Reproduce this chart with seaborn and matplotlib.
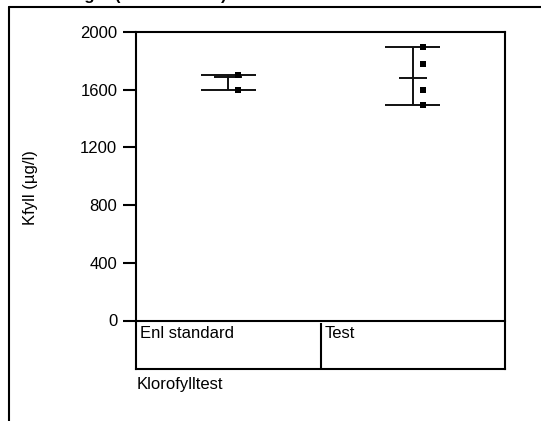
import matplotlib
matplotlib.use("Agg")
import matplotlib.pyplot as plt
from matplotlib.lines import Line2D
import numpy as np
import pandas as pd
import seaborn as sns

# Measurements per group (Kfyll, µg/l)
groups = ["Enl standard", "Test"]
enl_standard_values = [1700, 1598]
test_values = [1896, 1780, 1600, 1492]
group_means = [1686, 1680]

y_ticks = [0, 400, 800, 1200, 1600, 2000]
y_label = "Kfyll (µg/l)"
x_label = "Klorofylltest"
title = "Fördelningar (Enl standard)"

sns.set_theme(style="white")
plt.rcParams["font.family"] = ["Liberation Sans", "DejaVu Sans"]

W, H = 541, 421


def fx(px):
    return px / W


def fy(py):
    return 1 - py / H


fig = plt.figure(figsize=(W / 100, H / 100), dpi=100)

# main plotting area
ax = fig.add_axes([fx(136), fy(320.5), (505 - 136) / W, (320.5 - 32) / H])

values = [enl_standard_values, test_values]
df = pd.DataFrame({
    "group": np.repeat(np.arange(len(groups)), [len(v) for v in values]),
    "value": np.concatenate(values),
})
df["xpos"] = df["group"] + 0.055

# range bars: min/max caps plus a vertical connector, short tick at the mean
for i, v in enumerate(values):
    lo, hi = min(v), max(v)
    ax.hlines([lo, hi], i - 0.15, i + 0.15, color="#111111", lw=1.4, zorder=2)
    ax.vlines(i, lo, hi, color="#111111", lw=1.4, zorder=2)
    ax.hlines(group_means[i], i - 0.075, i + 0.075, color="#111111", lw=1.4, zorder=2)

sns.scatterplot(data=df, x="xpos", y="value", marker="s", s=22, color="black",
                edgecolor="black", linewidth=0, ax=ax, zorder=3, legend=False)

ax.set_xlim(-0.5, 1.5)
ax.set_ylim(0, 2000)
ax.set_yticks(y_ticks)
ax.set_yticklabels([str(t) for t in y_ticks])
ax.set_xticks([])
ax.set_xlabel("")
ax.set_ylabel("")
for s in ax.spines.values():
    s.set_linewidth(1.5)
    s.set_color("black")
ax.tick_params(axis="y", direction="out", length=9.5, width=1.5, pad=4,
               labelsize=12, colors="black", left=True)

# category strip beneath the plot
axc = fig.add_axes([fx(136), fy(368.5), (505 - 136) / W, (368.5 - 322.7) / H])
axc.set_xlim(-0.5, 1.5)
axc.set_ylim(0, 1)
axc.set_xticks([])
axc.set_yticks([])
axc.spines["top"].set_visible(False)
for side in ("left", "right", "bottom"):
    axc.spines[side].set_linewidth(1.5)
    axc.spines[side].set_color("black")
axc.axvline(0.5, color="black", lw=1.5)
for i, g in enumerate(groups):
    axc.annotate(g, xy=(i - 0.5, 1), xycoords=("data", "axes fraction"),
                 xytext=(4, -15), textcoords="offset pixels",
                 ha="left", va="baseline", fontsize=12, color="black")

fig.text(fx(137), fy(389), x_label, ha="left", va="baseline", fontsize=12, color="black")
fig.text(fx(31), fy(188), y_label, rotation=90, ha="center", va="center",
         fontsize=12, color="black")

# outer report frame and heading running off the top edge
fig.add_artist(Line2D([fx(9), fx(9)], [fy(7), 0], lw=1.5, color="black",
                      transform=fig.transFigure))
fig.add_artist(Line2D([fx(9), 1], [fy(7), fy(7)], lw=1.5, color="black",
                      transform=fig.transFigure))
fig.text(fx(9), fy(0), title, ha="left", va="baseline", fontsize=12,
         fontweight="bold", color="black")

fig.savefig("out.png", dpi=100, facecolor="white")
